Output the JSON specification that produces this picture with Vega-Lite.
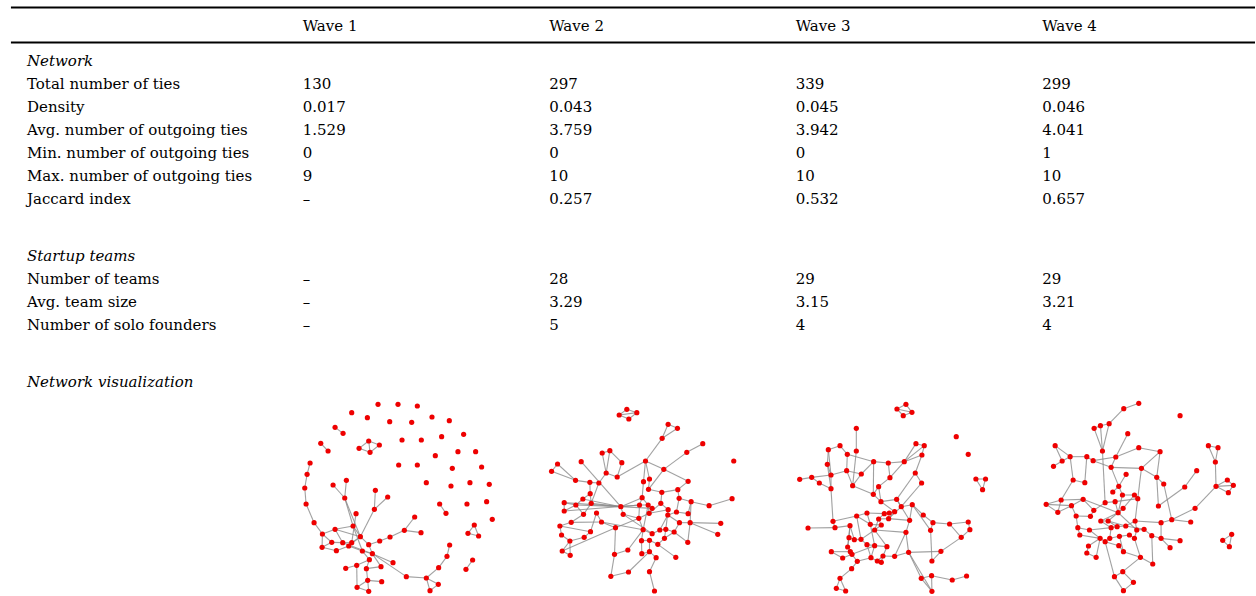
{
"$schema": "https://vega.github.io/schema/vega-lite/v6.json",
"width": 1256, "height": 596, "padding": 0,
"autosize": {"type": "fit", "contains": "padding"},
"background": "white",
"config": {"view": {"stroke": null}, "text": {"font": "DejaVu Serif", "fontSize": 15, "color": "#000"}},
"datasets": {
"cells": [
{"line":0,"col":1,"text":"Wave 1"},{"line":0,"col":2,"text":"Wave 2"},{"line":0,"col":3,"text":"Wave 3"},{"line":0,"col":4,"text":"Wave 4"},
{"line":5,"col":1,"text":"130"},{"line":5,"col":2,"text":"297"},{"line":5,"col":3,"text":"339"},{"line":5,"col":4,"text":"299"},
{"line":7,"col":1,"text":"0.017"},{"line":7,"col":2,"text":"0.043"},{"line":7,"col":3,"text":"0.045"},{"line":7,"col":4,"text":"0.046"},
{"line":9,"col":1,"text":"1.529"},{"line":9,"col":2,"text":"3.759"},{"line":9,"col":3,"text":"3.942"},{"line":9,"col":4,"text":"4.041"},
{"line":11,"col":1,"text":"0"},{"line":11,"col":2,"text":"0"},{"line":11,"col":3,"text":"0"},{"line":11,"col":4,"text":"1"},
{"line":13,"col":1,"text":"9"},{"line":13,"col":2,"text":"10"},{"line":13,"col":3,"text":"10"},{"line":13,"col":4,"text":"10"},
{"line":15,"col":1,"text":"–"},{"line":15,"col":2,"text":"0.257"},{"line":15,"col":3,"text":"0.532"},{"line":15,"col":4,"text":"0.657"},
{"line":22,"col":1,"text":"–"},{"line":22,"col":2,"text":"28"},{"line":22,"col":3,"text":"29"},{"line":22,"col":4,"text":"29"},
{"line":24,"col":1,"text":"–"},{"line":24,"col":2,"text":"3.29"},{"line":24,"col":3,"text":"3.15"},{"line":24,"col":4,"text":"3.21"},
{"line":26,"col":1,"text":"–"},{"line":26,"col":2,"text":"5"},{"line":26,"col":3,"text":"4"},{"line":26,"col":4,"text":"4"}
],
"labels": [
{"line":3,"label":"Network","kind":"section"},
{"line":5,"label":"Total number of ties","kind":"item"},
{"line":7,"label":"Density","kind":"item"},
{"line":9,"label":"Avg. number of outgoing ties","kind":"item"},
{"line":11,"label":"Min. number of outgoing ties","kind":"item"},
{"line":13,"label":"Max. number of outgoing ties","kind":"item"},
{"line":15,"label":"Jaccard index","kind":"item"},
{"line":20,"label":"Startup teams","kind":"section"},
{"line":22,"label":"Number of teams","kind":"item"},
{"line":24,"label":"Avg. team size","kind":"item"},
{"line":26,"label":"Number of solo founders","kind":"item"},
{"line":31,"label":"Network visualization","kind":"section"}
],
"rules": [{"rule":"top","line":-1.6},{"rule":"header","line":1.43}],
"nodes": [
{"id":101,"lx":265,"ly":28},{"id":102,"lx":325,"ly":28},{"id":103,"lx":383,"ly":33},{"id":104,"lx":186,"ly":53},{"id":105,"lx":233,"ly":68},{"id":106,"lx":300,"ly":80},{"id":107,"lx":366,"ly":82},{"id":108,"lx":427,"ly":66},{"id":109,"lx":479,"ly":77},{"id":110,"lx":136,"ly":97},
{"id":111,"lx":160,"ly":115},{"id":112,"lx":93,"ly":145},{"id":113,"lx":115,"ly":168},{"id":114,"lx":237,"ly":138},{"id":115,"lx":208,"ly":160},{"id":116,"lx":241,"ly":172},{"id":117,"lx":269,"ly":150},{"id":118,"lx":337,"ly":135},{"id":119,"lx":395,"ly":135},{"id":120,"lx":456,"ly":125},
{"id":121,"lx":522,"ly":118},{"id":122,"lx":437,"ly":182},{"id":123,"lx":505,"ly":170},{"id":124,"lx":558,"ly":170},{"id":125,"lx":327,"ly":210},{"id":126,"lx":383,"ly":210},{"id":127,"lx":488,"ly":220},{"id":128,"lx":576,"ly":216},{"id":129,"lx":410,"ly":263},{"id":130,"lx":484,"ly":273},
{"id":131,"lx":541,"ly":263},{"id":132,"lx":599,"ly":268},{"id":133,"lx":450,"ly":327},{"id":134,"lx":469,"ly":355},{"id":135,"lx":532,"ly":327},{"id":136,"lx":591,"ly":320},{"id":137,"lx":608,"ly":373},{"id":138,"lx":554,"ly":390},{"id":139,"lx":535,"ly":415},{"id":140,"lx":567,"ly":423},
{"id":141,"lx":549,"ly":495},{"id":142,"lx":529,"ly":523},{"id":143,"lx":61,"ly":204},{"id":144,"lx":52,"ly":238},{"id":145,"lx":45,"ly":279},{"id":146,"lx":49,"ly":327},{"id":147,"lx":73,"ly":383},{"id":148,"lx":98,"ly":417},{"id":149,"lx":130,"ly":270},{"id":150,"lx":165,"ly":309},
{"id":151,"lx":170,"ly":256},{"id":152,"lx":257,"ly":286},{"id":153,"lx":294,"ly":306},{"id":154,"lx":254,"ly":343},{"id":155,"lx":199,"ly":356},{"id":156,"lx":375,"ly":366},{"id":157,"lx":344,"ly":406},{"id":158,"lx":394,"ly":413},{"id":159,"lx":301,"ly":426},{"id":160,"lx":270,"ly":438},
{"id":161,"lx":136,"ly":403},{"id":162,"lx":190,"ly":393},{"id":163,"lx":126,"ly":442},{"id":164,"lx":159,"ly":443},{"id":165,"lx":186,"ly":443},{"id":166,"lx":212,"ly":425},{"id":167,"lx":97,"ly":457},{"id":168,"lx":140,"ly":467},{"id":169,"lx":177,"ly":453},{"id":170,"lx":237,"ly":449},
{"id":171,"lx":248,"ly":476},{"id":172,"lx":218,"ly":468},{"id":173,"lx":239,"ly":494},{"id":174,"lx":168,"ly":520},{"id":175,"lx":201,"ly":511},{"id":176,"lx":230,"ly":521},{"id":177,"lx":274,"ly":515},{"id":178,"lx":310,"ly":503},{"id":179,"lx":234,"ly":556},{"id":180,"lx":276,"ly":560},
{"id":181,"lx":202,"ly":577},{"id":182,"lx":237,"ly":589},{"id":183,"lx":350,"ly":545},{"id":184,"lx":410,"ly":549},{"id":185,"lx":447,"ly":518},{"id":186,"lx":472,"ly":484},{"id":187,"lx":480,"ly":450},{"id":188,"lx":446,"ly":568},{"id":189,"lx":421,"ly":587},
{"id":201,"lx":262,"ly":43},{"id":202,"lx":239,"ly":60},{"id":203,"lx":268,"ly":72},{"id":204,"lx":292,"ly":53},{"id":205,"lx":386,"ly":88},{"id":206,"lx":414,"ly":100},{"id":207,"lx":368,"ly":130},{"id":208,"lx":490,"ly":146},{"id":209,"lx":442,"ly":172},{"id":210,"lx":583,"ly":198},
{"id":211,"lx":578,"ly":311},{"id":212,"lx":509,"ly":332},{"id":213,"lx":544,"ly":385},{"id":214,"lx":535,"ly":418},{"id":215,"lx":54,"ly":207},{"id":216,"lx":36,"ly":229},{"id":217,"lx":108,"ly":256},{"id":218,"lx":125,"ly":200},{"id":219,"lx":188,"ly":174},{"id":220,"lx":211,"ly":167},
{"id":221,"lx":247,"ly":203},{"id":222,"lx":200,"ly":234},{"id":223,"lx":233,"ly":246},{"id":224,"lx":178,"ly":264},{"id":225,"lx":151,"ly":262},{"id":226,"lx":152,"ly":296},{"id":227,"lx":130,"ly":312},{"id":228,"lx":74,"ly":323},{"id":229,"lx":74,"ly":348},{"id":230,"lx":109,"ly":330},
{"id":231,"lx":132,"ly":358},{"id":232,"lx":155,"ly":325},{"id":233,"lx":95,"ly":382},{"id":234,"lx":61,"ly":393},{"id":235,"lx":66,"ly":420},{"id":236,"lx":91,"ly":438},{"id":237,"lx":68,"ly":468},{"id":238,"lx":92,"ly":481},{"id":239,"lx":134,"ly":427},{"id":240,"lx":153,"ly":410},
{"id":241,"lx":171,"ly":354},{"id":242,"lx":186,"ly":381},{"id":243,"lx":228,"ly":398},{"id":244,"lx":244,"ly":335},{"id":245,"lx":251,"ly":358},{"id":246,"lx":318,"ly":198},{"id":247,"lx":373,"ly":223},{"id":248,"lx":330,"ly":252},{"id":249,"lx":312,"ly":260},{"id":250,"lx":327,"ly":283},
{"id":251,"lx":308,"ly":308},{"id":252,"lx":300,"ly":330},{"id":253,"lx":326,"ly":330},{"id":254,"lx":338,"ly":340},{"id":255,"lx":298,"ly":370},{"id":256,"lx":329,"ly":355},{"id":257,"lx":367,"ly":292},{"id":258,"lx":364,"ly":325},{"id":259,"lx":386,"ly":344},{"id":260,"lx":385,"ly":360},
{"id":261,"lx":415,"ly":284},{"id":262,"lx":446,"ly":259},{"id":263,"lx":419,"ly":310},{"id":264,"lx":455,"ly":320},{"id":265,"lx":411,"ly":351},{"id":266,"lx":446,"ly":356},{"id":267,"lx":452,"ly":383},{"id":268,"lx":420,"ly":383},{"id":269,"lx":404,"ly":411},{"id":270,"lx":375,"ly":430},
{"id":271,"lx":379,"ly":403},{"id":272,"lx":361,"ly":405},{"id":273,"lx":338,"ly":416},{"id":274,"lx":311,"ly":404},{"id":275,"lx":306,"ly":437},{"id":276,"lx":330,"ly":436},{"id":277,"lx":307,"ly":476},{"id":278,"lx":330,"ly":470},{"id":279,"lx":355,"ly":448},{"id":280,"lx":350,"ly":488},
{"id":281,"lx":409,"ly":487},{"id":282,"lx":445,"ly":442},{"id":283,"lx":225,"ly":478},{"id":284,"lx":265,"ly":465},{"id":285,"lx":214,"ly":544},{"id":286,"lx":267,"ly":531},{"id":287,"lx":330,"ly":530},{"id":288,"lx":345,"ly":588},
{"id":301,"lx":350,"ly":28},{"id":302,"lx":323,"ly":42},{"id":303,"lx":368,"ly":52},{"id":304,"lx":342,"ly":62},{"id":305,"lx":501,"ly":125},{"id":306,"lx":537,"ly":178},{"id":307,"lx":560,"ly":252},{"id":308,"lx":589,"ly":252},{"id":309,"lx":580,"ly":284},{"id":310,"lx":201,"ly":100},
{"id":311,"lx":201,"ly":168},{"id":312,"lx":253,"ly":200},{"id":313,"lx":297,"ly":204},{"id":314,"lx":345,"ly":200},{"id":315,"lx":380,"ly":146},{"id":316,"lx":405,"ly":152},{"id":317,"lx":398,"ly":180},{"id":318,"lx":378,"ly":234},{"id":319,"lx":397,"ly":264},{"id":320,"lx":302,"ly":248},
{"id":321,"lx":268,"ly":275},{"id":322,"lx":252,"ly":298},{"id":323,"lx":216,"ly":237},{"id":324,"lx":190,"ly":272},{"id":325,"lx":125,"ly":281},{"id":326,"lx":90,"ly":264},{"id":327,"lx":67,"ly":247},{"id":328,"lx":31,"ly":253},{"id":329,"lx":125,"ly":240},{"id":330,"lx":172,"ly":227},
{"id":331,"lx":174,"ly":178},{"id":332,"lx":152,"ly":152},{"id":333,"lx":117,"ly":164},{"id":334,"lx":114,"ly":208},{"id":335,"lx":275,"ly":320},{"id":336,"lx":322,"ly":313},{"id":337,"lx":336,"ly":335},{"id":338,"lx":369,"ly":329},{"id":339,"lx":316,"ly":350},{"id":340,"lx":300,"ly":354},
{"id":341,"lx":285,"ly":356},{"id":342,"lx":268,"ly":372},{"id":343,"lx":276,"ly":390},{"id":344,"lx":243,"ly":388},{"id":345,"lx":233,"ly":354},{"id":346,"lx":202,"ly":363},{"id":347,"lx":131,"ly":379},{"id":348,"lx":56,"ly":399},{"id":349,"lx":137,"ly":398},{"id":350,"lx":182,"ly":392},
{"id":351,"lx":256,"ly":405},{"id":352,"lx":298,"ly":371},{"id":353,"lx":361,"ly":376},{"id":354,"lx":402,"ly":360},{"id":355,"lx":431,"ly":383},{"id":356,"lx":424,"ly":406},{"id":357,"lx":350,"ly":412},{"id":358,"lx":481,"ly":387},{"id":359,"lx":537,"ly":381},{"id":360,"lx":542,"ly":404},
{"id":361,"lx":516,"ly":427},{"id":362,"lx":455,"ly":469},{"id":363,"lx":428,"ly":498},{"id":364,"lx":358,"ly":472},{"id":365,"lx":316,"ly":484},{"id":366,"lx":281,"ly":483},{"id":367,"lx":276,"ly":502},{"id":368,"lx":293,"ly":455},{"id":369,"lx":256,"ly":452},{"id":370,"lx":233,"ly":449},
{"id":371,"lx":215,"ly":433},{"id":372,"lx":195,"ly":434},{"id":373,"lx":179,"ly":428},{"id":374,"lx":183,"ly":470},{"id":375,"lx":175,"ly":456},{"id":376,"lx":126,"ly":470},{"id":377,"lx":160,"ly":489},{"id":378,"lx":188,"ly":478},{"id":379,"lx":204,"ly":499},{"id":380,"lx":245,"ly":488},
{"id":381,"lx":264,"ly":498},{"id":382,"lx":187,"ly":521},{"id":383,"lx":152,"ly":550},{"id":384,"lx":141,"ly":580},{"id":385,"lx":169,"ly":588},{"id":386,"lx":396,"ly":550},{"id":387,"lx":427,"ly":542},{"id":388,"lx":428,"ly":589},{"id":389,"lx":489,"ly":555},{"id":390,"lx":532,"ly":543},
{"id":401,"lx":311,"ly":25},{"id":402,"lx":266,"ly":41},{"id":403,"lx":222,"ly":86},{"id":404,"lx":196,"ly":92},{"id":405,"lx":177,"ly":100},{"id":406,"lx":202,"ly":168},{"id":407,"lx":435,"ly":62},{"id":408,"lx":520,"ly":152},{"id":409,"lx":549,"ly":158},{"id":410,"lx":541,"ly":201},
{"id":411,"lx":543,"ly":274},{"id":412,"lx":577,"ly":255},{"id":413,"lx":595,"ly":271},{"id":414,"lx":580,"ly":293},{"id":415,"lx":563,"ly":436},{"id":416,"lx":590,"ly":418},{"id":417,"lx":583,"ly":455},{"id":418,"lx":278,"ly":116},{"id":419,"lx":311,"ly":158},{"id":420,"lx":375,"ly":170},
{"id":421,"lx":242,"ly":186},{"id":422,"lx":155,"ly":185},{"id":423,"lx":105,"ly":185},{"id":424,"lx":60,"ly":152},{"id":425,"lx":81,"ly":198},{"id":426,"lx":55,"ly":214},{"id":427,"lx":174,"ly":197},{"id":428,"lx":228,"ly":217},{"id":429,"lx":319,"ly":220},{"id":430,"lx":365,"ly":247},
{"id":431,"lx":386,"ly":267},{"id":432,"lx":485,"ly":227},{"id":433,"lx":449,"ly":276},{"id":434,"lx":273,"ly":238},{"id":435,"lx":114,"ly":255},{"id":436,"lx":149,"ly":263},{"id":437,"lx":251,"ly":274},{"id":438,"lx":233,"ly":291},{"id":439,"lx":262,"ly":300},{"id":440,"lx":298,"ly":300},
{"id":441,"lx":308,"ly":311},{"id":442,"lx":240,"ly":320},{"id":443,"lx":210,"ly":323},{"id":444,"lx":144,"ly":313},{"id":445,"lx":78,"ly":315},{"id":446,"lx":33,"ly":328},{"id":447,"lx":68,"ly":352},{"id":448,"lx":109,"ly":332},{"id":449,"lx":123,"ly":363},{"id":450,"lx":166,"ly":364},
{"id":451,"lx":176,"ly":346},{"id":452,"lx":249,"ly":353},{"id":453,"lx":264,"ly":340},{"id":454,"lx":197,"ly":378},{"id":455,"lx":219,"ly":378},{"id":456,"lx":246,"ly":395},{"id":457,"lx":272,"ly":393},{"id":458,"lx":300,"ly":378},{"id":459,"lx":370,"ly":333},{"id":460,"lx":480,"ly":340},
{"id":461,"lx":467,"ly":381},{"id":462,"lx":410,"ly":374},{"id":463,"lx":378,"ly":383},{"id":464,"lx":128,"ly":398},{"id":465,"lx":163,"ly":405},{"id":466,"lx":228,"ly":398},{"id":467,"lx":305,"ly":405},{"id":468,"lx":327,"ly":403},{"id":469,"lx":350,"ly":422},{"id":470,"lx":378,"ly":430},
{"id":471,"lx":405,"ly":458},{"id":472,"lx":435,"ly":437},{"id":473,"lx":134,"ly":420},{"id":474,"lx":195,"ly":430},{"id":475,"lx":210,"ly":440},{"id":476,"lx":224,"ly":430},{"id":477,"lx":253,"ly":424},{"id":478,"lx":283,"ly":420},{"id":479,"lx":298,"ly":430},{"id":480,"lx":160,"ly":453},
{"id":481,"lx":155,"ly":474},{"id":482,"lx":183,"ly":487},{"id":483,"lx":251,"ly":452},{"id":484,"lx":265,"ly":470},{"id":485,"lx":316,"ly":487},{"id":486,"lx":353,"ly":507},{"id":487,"lx":238,"ly":545},{"id":488,"lx":263,"ly":530},{"id":489,"lx":295,"ly":562},{"id":490,"lx":265,"ly":587}
],
"edges": [
{"s":110,"t":111},{"s":112,"t":113},{"s":114,"t":115},{"s":114,"t":116},{"s":114,"t":117},{"s":115,"t":116},{"s":116,"t":117},{"s":133,"t":134},{"s":138,"t":139},{"s":138,"t":140},{"s":139,"t":140},{"s":141,"t":142},
{"s":143,"t":144},{"s":144,"t":145},{"s":145,"t":146},{"s":146,"t":147},{"s":147,"t":148},{"s":149,"t":150},{"s":151,"t":150},{"s":150,"t":166},{"s":150,"t":162},{"s":152,"t":154},{"s":153,"t":154},{"s":154,"t":166},{"s":155,"t":165},
{"s":156,"t":157},{"s":157,"t":158},{"s":157,"t":159},{"s":159,"t":160},{"s":160,"t":170},{"s":148,"t":161},{"s":148,"t":163},{"s":148,"t":167},{"s":161,"t":162},{"s":161,"t":164},{"s":162,"t":166},{"s":163,"t":164},{"s":164,"t":165},
{"s":165,"t":166},{"s":166,"t":170},{"s":166,"t":169},{"s":169,"t":172},{"s":170,"t":171},{"s":171,"t":172},{"s":172,"t":173},{"s":173,"t":175},{"s":175,"t":174},{"s":173,"t":176},{"s":176,"t":179},{"s":179,"t":180},{"s":179,"t":181},
{"s":181,"t":182},{"s":182,"t":179},{"s":175,"t":181},{"s":171,"t":178},{"s":176,"t":177},{"s":177,"t":171},{"s":167,"t":168},{"s":168,"t":169},{"s":163,"t":167},{"s":171,"t":183},{"s":183,"t":184},{"s":184,"t":185},{"s":185,"t":186},
{"s":186,"t":187},{"s":184,"t":188},{"s":184,"t":189},{"s":188,"t":189},{"s":161,"t":166},{"s":162,"t":172},{"s":164,"t":171},
{"s":201,"t":202},{"s":201,"t":204},{"s":202,"t":203},{"s":203,"t":204},{"s":202,"t":204},{"s":205,"t":206},{"s":205,"t":207},{"s":206,"t":207},{"s":207,"t":246},{"s":208,"t":209},{"s":209,"t":247},{"s":211,"t":212},{"s":212,"t":264},
{"s":213,"t":267},{"s":214,"t":267},{"s":215,"t":216},{"s":215,"t":217},{"s":216,"t":217},{"s":217,"t":225},{"s":218,"t":244},{"s":219,"t":220},{"s":219,"t":222},{"s":220,"t":222},{"s":220,"t":221},{"s":221,"t":223},{"s":222,"t":223},
{"s":222,"t":224},{"s":223,"t":246},{"s":246,"t":247},{"s":246,"t":248},{"s":246,"t":249},{"s":247,"t":250},{"s":248,"t":250},{"s":249,"t":251},{"s":247,"t":262},{"s":224,"t":225},{"s":224,"t":232},{"s":225,"t":226},{"s":226,"t":227},
{"s":226,"t":232},{"s":227,"t":230},{"s":228,"t":230},{"s":228,"t":229},{"s":229,"t":230},{"s":230,"t":231},{"s":231,"t":232},{"s":232,"t":244},{"s":231,"t":233},{"s":233,"t":234},{"s":234,"t":235},{"s":235,"t":236},{"s":236,"t":237},
{"s":237,"t":238},{"s":236,"t":238},{"s":236,"t":239},{"s":239,"t":240},{"s":240,"t":241},{"s":241,"t":242},{"s":242,"t":243},{"s":243,"t":255},{"s":243,"t":283},{"s":244,"t":245},{"s":244,"t":251},{"s":244,"t":252},{"s":244,"t":254},
{"s":228,"t":244},{"s":227,"t":244},{"s":245,"t":255},{"s":245,"t":273},{"s":251,"t":252},{"s":252,"t":253},{"s":253,"t":254},{"s":251,"t":253},{"s":253,"t":256},{"s":254,"t":256},{"s":252,"t":255},{"s":255,"t":256},{"s":255,"t":274},
{"s":256,"t":258},{"s":256,"t":259},{"s":258,"t":259},{"s":257,"t":258},{"s":257,"t":261},{"s":250,"t":257},{"s":259,"t":260},{"s":260,"t":265},{"s":265,"t":266},{"s":264,"t":266},{"s":263,"t":264},{"s":261,"t":263},{"s":261,"t":262},
{"s":263,"t":265},{"s":264,"t":267},{"s":267,"t":268},{"s":260,"t":268},{"s":268,"t":269},{"s":269,"t":271},{"s":271,"t":272},{"s":272,"t":273},{"s":273,"t":274},{"s":274,"t":275},{"s":275,"t":276},{"s":276,"t":279},{"s":270,"t":279},
{"s":270,"t":271},{"s":269,"t":270},{"s":274,"t":253},{"s":260,"t":272},{"s":259,"t":271},{"s":276,"t":278},{"s":278,"t":280},{"s":277,"t":278},{"s":275,"t":277},{"s":280,"t":287},{"s":287,"t":288},{"s":279,"t":281},{"s":267,"t":282},
{"s":269,"t":282},{"s":283,"t":284},{"s":274,"t":284},{"s":285,"t":286},{"s":278,"t":286},{"s":283,"t":285},{"s":229,"t":252},{"s":233,"t":242},{"s":234,"t":240},{"s":242,"t":274},{"s":237,"t":243},{"s":230,"t":244},
{"s":301,"t":302},{"s":301,"t":303},{"s":302,"t":304},{"s":303,"t":304},{"s":302,"t":303},{"s":307,"t":308},{"s":307,"t":309},{"s":308,"t":309},{"s":310,"t":311},{"s":311,"t":324},{"s":331,"t":332},{"s":331,"t":330},{"s":332,"t":333},
{"s":333,"t":334},{"s":334,"t":329},{"s":329,"t":330},{"s":330,"t":323},{"s":329,"t":325},{"s":327,"t":328},{"s":327,"t":326},{"s":326,"t":325},{"s":325,"t":334},{"s":327,"t":329},{"s":333,"t":329},{"s":312,"t":313},{"s":313,"t":314},
{"s":314,"t":315},{"s":314,"t":316},{"s":315,"t":316},{"s":316,"t":317},{"s":317,"t":314},{"s":317,"t":318},{"s":318,"t":319},{"s":314,"t":320},{"s":320,"t":321},{"s":320,"t":313},{"s":321,"t":322},{"s":312,"t":322},{"s":312,"t":331},
{"s":323,"t":324},{"s":323,"t":312},{"s":324,"t":330},{"s":324,"t":322},{"s":322,"t":335},{"s":335,"t":336},{"s":336,"t":337},{"s":337,"t":338},{"s":335,"t":339},{"s":339,"t":340},{"s":340,"t":341},{"s":341,"t":342},{"s":342,"t":343},
{"s":343,"t":344},{"s":344,"t":345},{"s":345,"t":346},{"s":345,"t":341},{"s":346,"t":347},{"s":348,"t":349},{"s":347,"t":349},{"s":349,"t":350},{"s":350,"t":372},{"s":325,"t":347},{"s":338,"t":354},{"s":354,"t":355},{"s":355,"t":358},
{"s":358,"t":359},{"s":359,"t":360},{"s":360,"t":361},{"s":358,"t":361},{"s":361,"t":362},{"s":362,"t":363},{"s":364,"t":365},{"s":364,"t":362},{"s":365,"t":366},{"s":366,"t":367},{"s":367,"t":381},{"s":364,"t":386},{"s":364,"t":388},
{"s":386,"t":387},{"s":387,"t":389},{"s":389,"t":390},{"s":387,"t":388},{"s":386,"t":388},{"s":318,"t":336},{"s":319,"t":337},{"s":352,"t":353},{"s":353,"t":357},{"s":357,"t":351},{"s":351,"t":343},{"s":352,"t":339},{"s":352,"t":342},
{"s":368,"t":369},{"s":369,"t":370},{"s":370,"t":371},{"s":371,"t":372},{"s":372,"t":373},{"s":373,"t":375},{"s":375,"t":374},{"s":374,"t":376},{"s":374,"t":378},{"s":378,"t":379},{"s":379,"t":382},{"s":382,"t":383},{"s":383,"t":384},
{"s":383,"t":385},{"s":384,"t":385},{"s":377,"t":378},{"s":376,"t":377},{"s":380,"t":381},{"s":380,"t":369},{"s":381,"t":366},{"s":368,"t":366},{"s":368,"t":351},{"s":369,"t":344},{"s":371,"t":351},{"s":373,"t":350},{"s":375,"t":350},
{"s":378,"t":369},{"s":370,"t":380},{"s":379,"t":380},{"s":364,"t":357},{"s":365,"t":357},{"s":356,"t":355},{"s":356,"t":338},{"s":363,"t":356},{"s":341,"t":339},{"s":335,"t":321},{"s":344,"t":346},{"s":342,"t":351},{"s":338,"t":353},
{"s":337,"t":352},{"s":346,"t":371},{"s":336,"t":353},
{"s":401,"t":402},{"s":402,"t":403},{"s":403,"t":404},{"s":404,"t":405},{"s":403,"t":406},{"s":404,"t":406},{"s":405,"t":406},{"s":408,"t":409},{"s":408,"t":410},{"s":409,"t":410},{"s":410,"t":411},{"s":411,"t":412},{"s":411,"t":413},
{"s":411,"t":414},{"s":412,"t":413},{"s":413,"t":414},{"s":415,"t":416},{"s":415,"t":417},{"s":416,"t":417},{"s":411,"t":460},{"s":460,"t":462},{"s":432,"t":433},{"s":433,"t":459},{"s":418,"t":421},{"s":419,"t":420},{"s":420,"t":430},
{"s":406,"t":443},{"s":421,"t":428},{"s":421,"t":427},{"s":421,"t":419},{"s":427,"t":422},{"s":422,"t":423},{"s":423,"t":424},{"s":424,"t":425},{"s":425,"t":426},{"s":423,"t":425},{"s":423,"t":435},{"s":422,"t":436},{"s":435,"t":436},
{"s":435,"t":445},{"s":427,"t":428},{"s":428,"t":437},{"s":429,"t":430},{"s":429,"t":441},{"s":430,"t":431},{"s":430,"t":459},{"s":431,"t":462},{"s":434,"t":437},{"s":437,"t":438},{"s":437,"t":439},{"s":439,"t":440},{"s":440,"t":441},
{"s":441,"t":442},{"s":442,"t":443},{"s":442,"t":452},{"s":453,"t":440},{"s":439,"t":452},{"s":441,"t":458},{"s":444,"t":445},{"s":444,"t":448},{"s":445,"t":446},{"s":446,"t":447},{"s":446,"t":448},{"s":445,"t":447},{"s":447,"t":448},
{"s":448,"t":449},{"s":449,"t":450},{"s":450,"t":451},{"s":451,"t":444},{"s":451,"t":443},{"s":449,"t":464},{"s":444,"t":452},{"s":452,"t":453},{"s":452,"t":454},{"s":453,"t":455},{"s":454,"t":455},{"s":455,"t":456},{"s":456,"t":457},
{"s":457,"t":458},{"s":458,"t":467},{"s":467,"t":468},{"s":468,"t":469},{"s":469,"t":470},{"s":470,"t":472},{"s":471,"t":470},{"s":470,"t":463},{"s":463,"t":462},{"s":462,"t":461},{"s":458,"t":463},{"s":464,"t":465},{"s":465,"t":466},
{"s":464,"t":473},{"s":473,"t":474},{"s":474,"t":475},{"s":475,"t":476},{"s":476,"t":477},{"s":477,"t":478},{"s":478,"t":479},{"s":479,"t":467},{"s":466,"t":476},{"s":465,"t":474},{"s":480,"t":481},{"s":480,"t":474},{"s":481,"t":482},
{"s":482,"t":474},{"s":475,"t":483},{"s":483,"t":484},{"s":484,"t":477},{"s":484,"t":485},{"s":485,"t":486},{"s":485,"t":479},{"s":486,"t":469},{"s":487,"t":488},{"s":488,"t":489},{"s":489,"t":490},{"s":487,"t":490},{"s":488,"t":485},
{"s":475,"t":487},{"s":456,"t":466},{"s":454,"t":466},{"s":455,"t":457},{"s":457,"t":468},{"s":452,"t":467},{"s":428,"t":429},{"s":420,"t":429}
]
},
"resolve": {"scale": {"x": "independent", "y": "independent"}},
"layer": [
{
"data": {"name": "rules"},
"mark": {"type": "rule", "color": "#000", "strokeWidth": 2},
"encoding": {
"x": {"datum": -0.184, "type": "quantitative", "scale": {"domain": [-0.22838, 4.86351], "nice": false, "zero": false}, "axis": null},
"x2": {"datum": 4.86351},
"y": {"field": "line", "type": "quantitative", "scale": {"domain": [-2.26087, 49.56522], "nice": false, "zero": false, "reverse": true}, "axis": null}
}
},
{
"data": {"name": "cells"},
"mark": {"type": "text", "align": "left", "baseline": "middle"},
"encoding": {
"x": {"field": "col", "type": "quantitative", "scale": {"domain": [-0.22838, 4.86351], "nice": false, "zero": false}, "axis": null},
"y": {"field": "line", "type": "quantitative", "scale": {"domain": [-2.26087, 49.56522], "nice": false, "zero": false, "reverse": true}, "axis": null},
"text": {"field": "text"}
}
},
{
"data": {"name": "labels"},
"transform": [{"filter": "datum.kind == 'item'"}],
"mark": {"type": "text", "align": "left", "baseline": "middle", "dx": -29.3},
"encoding": {
"x": {"datum": 0, "type": "quantitative", "scale": {"domain": [-0.22838, 4.86351], "nice": false, "zero": false}, "axis": null},
"y": {"field": "line", "type": "quantitative", "scale": {"domain": [-2.26087, 49.56522], "nice": false, "zero": false, "reverse": true}, "axis": null},
"text": {"field": "label"}
}
},
{
"data": {"name": "labels"},
"transform": [{"filter": "datum.kind == 'section'"}],
"mark": {"type": "text", "align": "left", "baseline": "middle", "dx": -29.3, "fontStyle": "italic"},
"encoding": {
"x": {"datum": 0, "type": "quantitative", "scale": {"domain": [-0.22838, 4.86351], "nice": false, "zero": false}, "axis": null},
"y": {"field": "line", "type": "quantitative", "scale": {"domain": [-2.26087, 49.56522], "nice": false, "zero": false, "reverse": true}, "axis": null},
"text": {"field": "label"}
}
},
{
"data": {"name": "edges"},
"transform": [{"filter": "floor(datum.s/100) == 1"},
{"lookup": "s", "from": {"data": {"name": "nodes"}, "key": "id", "fields": ["lx", "ly"]}, "as": ["sx", "sy"]},
{"lookup": "t", "from": {"data": {"name": "nodes"}, "key": "id", "fields": ["lx", "ly"]}, "as": ["tx", "ty"]}],
"mark": {"type": "rule", "color": "#8a8a8a", "strokeWidth": 1.1, "opacity": 0.8},
"encoding": {
"x": {"field": "sx", "type": "quantitative", "scale": {"domain": [-870, 2898], "nice": false, "zero": false}, "axis": null},
"y": {"field": "sy", "type": "quantitative", "scale": {"domain": [-1185, 603], "nice": false, "zero": false, "reverse": true}, "axis": null},
"x2": {"field": "tx"}, "y2": {"field": "ty"}
}
},
{
"data": {"name": "nodes"},
"transform": [{"filter": "floor(datum.id/100) == 1"}],
"mark": {"type": "point", "filled": true, "color": "#ee0000", "opacity": 1, "size": 27},
"encoding": {
"x": {"field": "lx", "type": "quantitative", "scale": {"domain": [-870, 2898], "nice": false, "zero": false}, "axis": null},
"y": {"field": "ly", "type": "quantitative", "scale": {"domain": [-1185, 603], "nice": false, "zero": false, "reverse": true}, "axis": null}
}
},
{
"data": {"name": "edges"},
"transform": [{"filter": "floor(datum.s/100) == 2"},
{"lookup": "s", "from": {"data": {"name": "nodes"}, "key": "id", "fields": ["lx", "ly"]}, "as": ["sx", "sy"]},
{"lookup": "t", "from": {"data": {"name": "nodes"}, "key": "id", "fields": ["lx", "ly"]}, "as": ["tx", "ty"]}],
"mark": {"type": "rule", "color": "#8a8a8a", "strokeWidth": 1.1, "opacity": 0.8},
"encoding": {
"x": {"field": "sx", "type": "quantitative", "scale": {"domain": [-1620, 2148], "nice": false, "zero": false}, "axis": null},
"y": {"field": "sy", "type": "quantitative", "scale": {"domain": [-1185, 603], "nice": false, "zero": false, "reverse": true}, "axis": null},
"x2": {"field": "tx"}, "y2": {"field": "ty"}
}
},
{
"data": {"name": "nodes"},
"transform": [{"filter": "floor(datum.id/100) == 2"}],
"mark": {"type": "point", "filled": true, "color": "#ee0000", "opacity": 1, "size": 27},
"encoding": {
"x": {"field": "lx", "type": "quantitative", "scale": {"domain": [-1620, 2148], "nice": false, "zero": false}, "axis": null},
"y": {"field": "ly", "type": "quantitative", "scale": {"domain": [-1185, 603], "nice": false, "zero": false, "reverse": true}, "axis": null}
}
},
{
"data": {"name": "edges"},
"transform": [{"filter": "floor(datum.s/100) == 3"},
{"lookup": "s", "from": {"data": {"name": "nodes"}, "key": "id", "fields": ["lx", "ly"]}, "as": ["sx", "sy"]},
{"lookup": "t", "from": {"data": {"name": "nodes"}, "key": "id", "fields": ["lx", "ly"]}, "as": ["tx", "ty"]}],
"mark": {"type": "rule", "color": "#8a8a8a", "strokeWidth": 1.1, "opacity": 0.8},
"encoding": {
"x": {"field": "sx", "type": "quantitative", "scale": {"domain": [-2370, 1398], "nice": false, "zero": false}, "axis": null},
"y": {"field": "sy", "type": "quantitative", "scale": {"domain": [-1185, 603], "nice": false, "zero": false, "reverse": true}, "axis": null},
"x2": {"field": "tx"}, "y2": {"field": "ty"}
}
},
{
"data": {"name": "nodes"},
"transform": [{"filter": "floor(datum.id/100) == 3"}],
"mark": {"type": "point", "filled": true, "color": "#ee0000", "opacity": 1, "size": 27},
"encoding": {
"x": {"field": "lx", "type": "quantitative", "scale": {"domain": [-2370, 1398], "nice": false, "zero": false}, "axis": null},
"y": {"field": "ly", "type": "quantitative", "scale": {"domain": [-1185, 603], "nice": false, "zero": false, "reverse": true}, "axis": null}
}
},
{
"data": {"name": "edges"},
"transform": [{"filter": "floor(datum.s/100) == 4"},
{"lookup": "s", "from": {"data": {"name": "nodes"}, "key": "id", "fields": ["lx", "ly"]}, "as": ["sx", "sy"]},
{"lookup": "t", "from": {"data": {"name": "nodes"}, "key": "id", "fields": ["lx", "ly"]}, "as": ["tx", "ty"]}],
"mark": {"type": "rule", "color": "#8a8a8a", "strokeWidth": 1.1, "opacity": 0.8},
"encoding": {
"x": {"field": "sx", "type": "quantitative", "scale": {"domain": [-3108, 660], "nice": false, "zero": false}, "axis": null},
"y": {"field": "sy", "type": "quantitative", "scale": {"domain": [-1185, 603], "nice": false, "zero": false, "reverse": true}, "axis": null},
"x2": {"field": "tx"}, "y2": {"field": "ty"}
}
},
{
"data": {"name": "nodes"},
"transform": [{"filter": "floor(datum.id/100) == 4"}],
"mark": {"type": "point", "filled": true, "color": "#ee0000", "opacity": 1, "size": 27},
"encoding": {
"x": {"field": "lx", "type": "quantitative", "scale": {"domain": [-3108, 660], "nice": false, "zero": false}, "axis": null},
"y": {"field": "ly", "type": "quantitative", "scale": {"domain": [-1185, 603], "nice": false, "zero": false, "reverse": true}, "axis": null}
}
}
]
}
